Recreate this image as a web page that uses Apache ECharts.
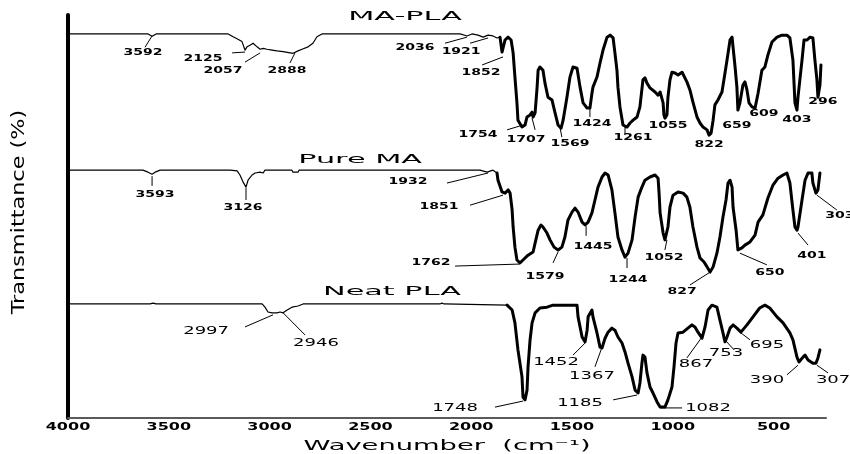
<!DOCTYPE html>
<html><head><meta charset="utf-8">
<script src="https://cdn.jsdelivr.net/npm/echarts/dist/echarts.min.js"></script>
<style>html,body{margin:0;padding:0;background:#fff}#c{width:850px;height:454px}</style>
</head><body><div id="c"></div>
<script>
// ---- Data (wavenumber cm-1, transmittance offset units) ----
const xTicks = [4000,3500,3000,2500,2000,1500,1000,500];

const maplaWave = [4000,3603,3583,3563,3206,3181,3157,3137,3122,3112,3097,3082,3062,3047,3032,3013,2988,2963,2933,2884,2859,2839,2809,2785,2765,2740,2055,2021,1996,1966,1941,1916,1892,1872,1857,1847,1842,1832,1817,1802,1792,1783,1773,1768,1748,1733,1723,1708,1698,1693,1683,1673,1668,1659,1644,1634,1619,1599,1584,1569,1554,1544,1525,1510,1495,1475,1460,1445,1425,1411,1401,1396,1376,1361,1346,1326,1311,1296,1287,1277,1272,1262,1247,1227,1212,1197,1177,1163,1148,1138,1128,1113,1088,1073,1063,1048,1044,1039,1029,1024,1014,1004,989,974,954,930,915,900,880,865,850,830,820,810,800,791,776,756,741,731,716,706,701,691,682,677,667,652,642,632,622,607,592,577,558,543,528,508,483,458,434,419,404,394,384,379,359,349,334,319,305,295,285,280,270,265];
const maplaT = [95.3,95.3,94.7,95.3,95.3,94.6,94.0,93.4,91.3,92.1,92.5,93.0,92.1,91.5,91.7,91.5,91.3,91.1,90.9,90.5,91.1,91.5,92.1,93.0,94.6,95.3,95.3,94.8,95.3,95.0,94.5,95.0,94.8,94.3,94.5,90.8,90.6,93.8,94.5,93.8,90.6,84.6,78.2,73.9,72.2,72.7,74.7,75.2,75.9,74.7,75.7,82.1,86.3,87.1,86.3,83.1,79.6,78.9,75.7,72.7,71.9,73.9,79.6,84.6,87.1,86.8,82.1,78.2,76.9,76.9,80.6,82.1,84.6,88.1,91.3,94.5,95.0,94.3,90.6,86.3,82.1,77.2,72.7,72.2,73.2,73.9,74.7,77.2,83.9,84.4,83.1,81.9,80.9,80.1,80.9,78.2,75.2,74.4,75.2,79.6,83.9,85.8,85.6,85.1,85.8,83.4,81.4,78.4,74.7,73.2,72.2,71.5,70.2,70.7,73.9,77.7,78.9,80.9,85.6,88.8,93.8,94.5,92.0,87.1,82.1,76.4,78.2,82.6,83.4,81.4,78.2,77.2,76.9,80.6,86.3,87.1,90.1,93.3,94.5,95.0,95.0,94.3,88.8,78.2,76.4,79.6,88.8,93.8,93.8,94.5,94.3,88.8,83.9,79.6,82.6,87.6];

const pureWave = [4000,3628,3603,3583,3568,3543,3196,3161,3147,3132,3117,3107,3087,3072,3047,3032,3023,2889,2884,2859,2854,1956,1921,1892,1872,1867,1847,1832,1817,1807,1797,1792,1783,1773,1758,1743,1718,1693,1683,1668,1654,1644,1624,1609,1589,1569,1550,1535,1520,1500,1485,1470,1450,1435,1420,1401,1386,1371,1351,1336,1321,1302,1287,1272,1252,1237,1222,1202,1187,1172,1153,1138,1113,1088,1073,1068,1063,1048,1039,1024,1014,999,974,949,930,915,900,880,865,845,830,815,800,781,766,751,736,726,716,706,701,686,677,657,642,617,592,577,553,528,503,478,453,434,419,404,394,384,379,359,344,329,310,305,290,280,270];
const pureT = [61.5,61.5,61.0,60.5,61.0,61.5,61.5,61.3,60.3,58.6,57.3,59.0,60.3,60.8,61.0,60.8,61.5,61.5,61.0,61.0,61.5,61.5,61.0,61.5,60.8,59.0,56.1,55.8,56.6,55.8,51.6,47.4,42.4,39.2,38.5,39.2,40.4,41.2,43.4,46.6,47.9,47.4,45.9,44.2,42.4,41.7,42.4,44.9,49.1,51.1,52.1,51.1,48.6,47.9,48.6,50.9,54.1,57.3,59.8,60.8,60.3,56.6,50.9,44.9,41.7,39.9,40.9,44.2,49.9,54.8,57.3,59.0,59.8,60.3,59.5,55.8,50.9,45.9,44.2,47.4,52.3,55.3,56.1,55.8,54.8,52.3,47.4,42.4,39.7,38.7,37.5,36.2,37.5,40.9,44.9,49.9,54.1,58.3,59.0,57.3,52.3,46.6,41.7,42.2,42.9,43.7,45.4,48.6,50.4,54.6,57.8,59.5,60.3,60.8,58.3,51.6,47.4,46.6,47.4,54.1,59.0,60.8,60.8,58.3,55.8,56.6,60.8];

const neatWave = [4000,3593,3578,3563,3404,3395,3385,3037,3023,3008,2988,2983,2963,2948,2933,2913,2889,2859,2834,2155,2145,2135,1822,1797,1783,1768,1748,1743,1733,1723,1718,1708,1698,1683,1659,1624,1594,1475,1470,1450,1435,1425,1420,1401,1396,1376,1361,1351,1336,1321,1302,1287,1272,1252,1237,1222,1202,1187,1172,1163,1153,1148,1138,1128,1113,1098,1078,1063,1039,1024,1004,994,984,974,949,925,905,890,875,855,850,840,825,806,781,766,751,741,731,716,701,682,662,632,602,569,543,519,483,453,419,404,384,374,354,344,329,305,290,280,270];
const neatT = [28.3,28.3,28.5,28.3,28.3,28.5,28.3,28.3,27.5,26.3,26.1,26.3,26.1,26.3,26.1,26.8,27.5,27.8,28.3,28.3,28.5,28.3,28.0,26.8,23.6,16.9,10.2,5.2,4.5,6.9,12.7,19.4,23.6,26.1,27.3,27.5,28.0,28.0,25.1,20.1,18.9,21.8,25.1,26.8,25.1,21.1,17.6,17.4,19.8,21.3,22.3,21.8,20.1,18.6,16.4,13.6,10.2,6.9,6.2,8.7,13.6,15.6,15.1,11.2,7.7,6.2,4.0,2.7,2.7,4.5,7.7,12.7,18.6,21.1,21.3,22.3,23.1,22.6,21.3,19.8,20.1,22.6,26.8,28.0,27.5,24.3,21.1,18.9,20.1,22.3,23.1,22.3,21.3,23.1,25.1,27.3,28.0,27.3,25.1,23.6,21.1,19.4,15.1,13.9,15.1,15.6,14.4,13.6,13.6,14.9,16.9];

// peak annotations: [text, wavenumber, transmittance]
const maplaLabels = [['3592',3628,90.6],['2125',3330,89.1],['2057',3231,86.1],['2888',2914,86.1],['2036',2279,91.8],['1921',2050,90.8],['1852',1951,85.6],['1754',1966,70.2],['1707',1728,69.0],['1569',1510,68.0],['1424',1401,72.9],['1261',1197,69.5],['1055',1024,72.4],['822',820,67.7],['659',682,72.4],['609',548,75.4],['403',384,73.9],['296',255,78.4]];
const pureLabels = [['3593',3568,55.3],['3126',3132,52.1],['1932',2313,58.6],['1851',2160,52.3],['1762',2199,38.5],['1579',1634,35.0],['1445',1396,42.4],['1244',1222,34.2],['1052',1044,39.7],['827',954,31.3],['650',518,36.0],['401',310,40.2],['303',171,50.1]];
const neatLabels = [['2997',3315,21.6],['2946',2770,18.6],['1748',2080,2.5],['1452',1579,13.9],['1367',1401,10.4],['1185',1460,3.7],['1082',825,2.5],['867',885,13.4],['753',736,16.1],['695',533,18.1],['390',533,9.4],['307',205,9.4]];

// leader lines: [w1, t1, w2, t2]
const maplaLeaders = [[3618,92.0,3583,94.8],[3186,90.6,3122,90.8],[3122,88.3,3047,90.6],[2899,88.1,2874,90.6],[2130,93.0,2021,94.5],[2006,93.0,1916,94.3],[1946,87.6,1842,89.6],[1822,71.5,1743,72.7],[1683,71.5,1698,74.4],[1550,69.7,1559,71.9],[1411,74.7,1411,76.9],[1237,70.2,1237,72.2]];
const pureLeaders = [[3583,60.0,3583,57.6],[3117,57.1,3117,54.1],[2120,58.3,1916,60.8],[2006,52.8,1842,55.3],[2080,37.7,1758,38.2],[1594,38.5,1569,41.2],[1430,45.2,1430,47.6],[1227,37.2,1227,39.7],[1039,41.7,1029,44.2],[915,33.0,815,36.2],[667,40.9,533,38.0],[379,45.9,329,42.9],[285,55.3,186,51.6]];
const neatLeaders = [[3122,22.6,2983,25.6],[2824,20.6,2933,26.1],[1882,2.7,1743,4.2],[1495,15.6,1435,18.6],[1386,12.7,1351,17.6],[1296,4.5,1177,5.7],[1063,2.5,954,2.5],[930,14.9,855,20.1],[736,19.1,696,16.9],[667,21.3,617,19.4],[434,10.7,379,13.1],[285,13.1,230,11.2]];

const spectrumTitles = [['MA-PLA',2328,99.5],['Pure MA',2551,64.0],['Neat PLA',2393,31.3]];

// ---- Chart ----
const chart = echarts.init(document.getElementById('c'), null, {renderer:'canvas'});
function pairs(w,t){const n=Math.min(w.length,t.length);const a=[];for(let i=0;i<n;i++)a.push([w[i],t[i]]);return a;}
function spectrum(name,w,t,split){
  const d=pairs(w,t);
  const thin=d.filter(p=>p[0]>=split), thick=d.filter(p=>p[0]<=split);
  const base={type:'line',showSymbol:false,symbol:'none',silent:true,clip:false,animation:false};
  return [
    Object.assign({name:name,data:thin,lineStyle:{color:'#000',width:1.2,join:'round'}},base),
    Object.assign({name:name,data:thick,lineStyle:{color:'#000',width:3,join:'round',cap:'round'}},base)
  ];
}
const series=[].concat(
  spectrum('MA-PLA',maplaWave,maplaT,1857),
  spectrum('Pure MA',pureWave,pureT,1872),
  spectrum('Neat PLA',neatWave,neatT,1822)
);
chart.setOption({
  animation:false,
  backgroundColor:'#ffffff',
  grid:{left:68,right:24,top:15,bottom:36},
  xAxis:{type:'value',min:240,max:4000,inverse:true,
    axisLine:{show:true,onZero:false,lineStyle:{color:'#5a5a5a',width:2}},
    axisTick:{show:false},axisLabel:{show:false},splitLine:{show:false}},
  yAxis:{type:'value',min:0,max:100,
    axisLine:{show:true,onZero:false,lineStyle:{color:'#000',width:4}},
    axisTick:{show:false},axisLabel:{show:false},splitLine:{show:false}},
  series:series
});

const FONT='"DejaVu Sans", Verdana, sans-serif';
function pt(w,t){return chart.convertToPixel({gridIndex:0},[w,t]);}
function txt(s,x,y,size,weight,sx,sy,rot){
  return {type:'text',x:x,y:y,scaleX:sx||1,scaleY:sy||1,rotation:rot||0,silent:true,z:100,
    style:{text:s,fill:'#000',font:weight+' '+size+'px '+FONT,
      align:'center',verticalAlign:'middle',textAlign:'center',textVerticalAlign:'middle'}};
}
const g=[];
xTicks.forEach(v=>{const p=pt(v,0);g.push(txt(String(v),p[0],427,10,'bold',1.6,1));});
maplaLabels.concat(pureLabels).forEach(l=>{const p=pt(l[1],l[2]);g.push(txt(l[0],p[0],p[1],8,'bold',1.75,1));});
neatLabels.forEach(l=>{const p=pt(l[1],l[2]);g.push(txt(l[0],p[0],p[1],10,'normal',1.8,1));});
spectrumTitles.forEach(l=>{const p=pt(l[1],l[2]);g.push(txt(l[0],p[0],p[1],13,'normal',2.33,1));});
maplaLeaders.concat(pureLeaders,neatLeaders).forEach(s=>{
  const a=pt(s[0],s[1]),b=pt(s[2],s[3]);
  g.push({type:'line',silent:true,z:90,shape:{x1:a[0],y1:a[1],x2:b[0],y2:b[1]},style:{stroke:'#000',lineWidth:1}});
});
g.push(txt('Wavenumber  (cm\u207B\u00B9)',447,446,14,'normal',1.95,1));
g.push(txt('Transmittance (%)',19,212,14,'normal',1.6,1.27,Math.PI/2));
chart.setOption({graphic:{elements:g}});
</script>
</body></html>
